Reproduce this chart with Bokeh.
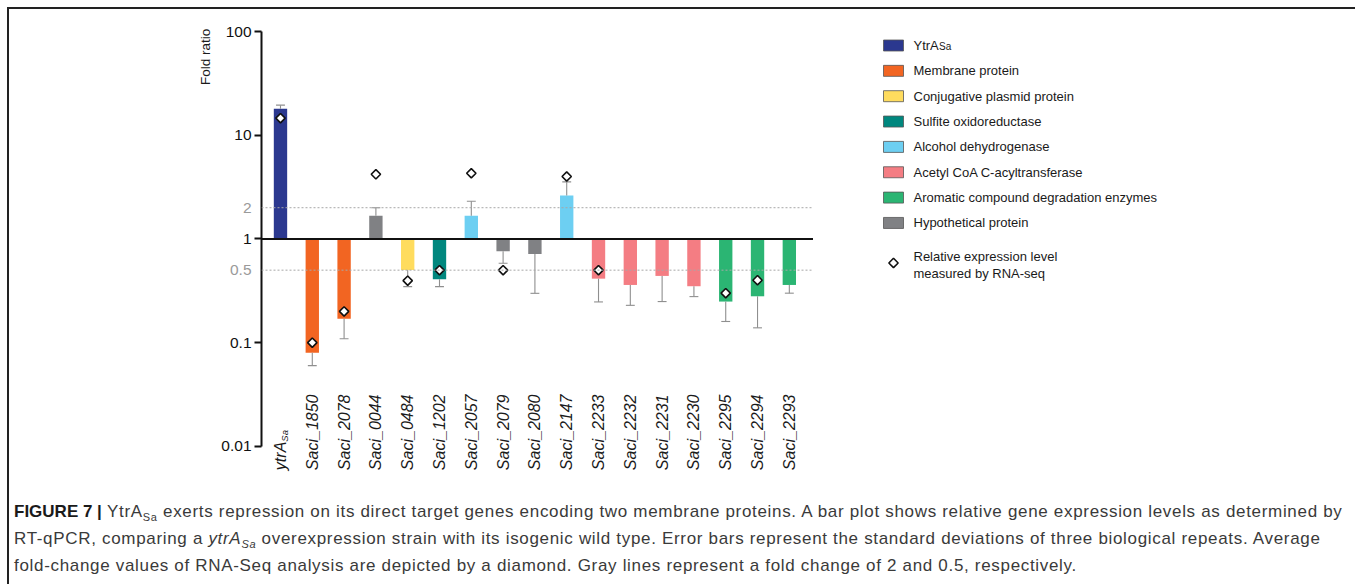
import numpy as np
from bokeh.plotting import figure
from bokeh.models import Range1d, FixedTicker, Span, Div
from bokeh.layouts import row, column
from bokeh.core.properties import value
from bokeh.embed import file_html
from bokeh.resources import INLINE

# ---------------- data ----------------
genes = ["ytrA", "Saci_1850", "Saci_2078", "Saci_0044", "Saci_0484", "Saci_1202",
         "Saci_2057", "Saci_2079", "Saci_2080", "Saci_2147", "Saci_2233", "Saci_2232",
         "Saci_2231", "Saci_2230", "Saci_2295", "Saci_2294", "Saci_2293"]
groups = ["ytra", "membrane", "membrane", "hypo", "plasmid", "sulfite",
          "alcohol", "hypo", "hypo", "alcohol", "acetyl", "acetyl",
          "acetyl", "acetyl", "aromatic", "aromatic", "aromatic"]
fold_ratio = [18.0, 0.080, 0.170, 1.67, 0.502, 0.409, 1.67, 0.761, 0.717, 2.62,
              0.414, 0.360, 0.440, 0.350, 0.249, 0.280, 0.360]
error_end = [19.5, 0.060, 0.109, 2.00, 0.347, 0.347, 2.31, 0.583, 0.299, 3.55,
             0.247, 0.229, 0.249, 0.278, 0.160, 0.139, 0.300]
rnaseq = [14.6, 0.100, 0.200, 4.20, 0.396, 0.500, 4.30, 0.500, None, 4.00,
          0.500, None, None, None, 0.300, 0.400, None]

legend_keys = ["ytra", "membrane", "plasmid", "sulfite", "alcohol", "acetyl", "aromatic", "hypo"]
legend_labels = ["YtrA", "Membrane protein", "Conjugative plasmid protein", "Sulfite oxidoreductase",
                 "Alcohol dehydrogenase", "Acetyl CoA C-acyltransferase",
                 "Aromatic compound degradation enzymes", "Hypothetical protein"]
legend_colors = ["#2B388F", "#F26522", "#FFDC5E", "#00877E", "#6DCFF2", "#F47D83", "#2BB573", "#808184"]
diamond_label = ["Relative expression level", "measured by RNA-seq"]

y_ticks = [0.01, 0.1, 1, 10, 100]
ref_lines = [2, 0.5]
y_title = "Fold ratio"

color_of = dict(zip(legend_keys, legend_colors))
FONT = "Liberation Sans"

# vertical geometry (pixels): one decade of the log axis, space above the 100 tick
H = 473
DEC_PX = 103.72
TOP_PAD = 22
top_exp = 2 + TOP_PAD / DEC_PX
bot_exp = top_exp - H / DEC_PX
y_range = Range1d(10 ** bot_exp, 10 ** top_exp)


def bare(fig):
    fig.outline_line_color = None
    fig.xgrid.visible = False
    fig.ygrid.visible = False
    return fig


# ---------------- left panel: y tick labels and title ----------------
LW0 = 243
lf = bare(figure(width=LW0, height=H, y_axis_type="log", x_range=Range1d(0, LW0), y_range=y_range,
                 output_backend="svg", toolbar_location=None, title=None,
                 x_axis_location=None, y_axis_location=None,
                 min_border_left=0, min_border_right=0, min_border_top=0, min_border_bottom=0))
lf.text(x=[LW0 - 1] * len(y_ticks), y=y_ticks, text=["%g" % t for t in y_ticks],
        text_align="right", text_baseline="middle", text_font=value(FONT),
        text_font_size="15.5px", text_color="#111111")
lf.text(x=[LW0 - 1] * len(ref_lines), y=ref_lines, text=["%g" % t for t in ref_lines],
        text_align="right", text_baseline="middle", text_font=value(FONT),
        text_font_size="15.5px", text_color="#9a9a9a")
lf.text(x=[196], y=[57], text=[y_title], angle=np.pi / 2, text_align="center",
        text_baseline="middle", text_font=value(FONT), text_font_size="13.5px",
        text_color="#1a1a1a")

# ---------------- main chart ----------------
x = list(range(len(genes)))
bar_colors = [color_of[g] for g in groups]

p = bare(figure(width=561, height=H, y_axis_type="log",
                x_range=Range1d(-0.597, 16.76), y_range=y_range,
                output_backend="svg", toolbar_location=None, title=None, x_axis_location=None,
                min_border_left=9, min_border_right=0, min_border_top=0, min_border_bottom=0))

for loc in ref_lines:
    p.add_layout(Span(location=loc, dimension="width", line_color="#a8a8a8",
                      line_width=1, line_dash="2 2"))

bottoms = [1.0] * len(x)
p.vbar(x=x, bottom=bottoms, top=fold_ratio, width=0.42, fill_color=bar_colors, line_color=None)

cap = 0.14
p.segment(x0=x, y0=fold_ratio, x1=x, y1=error_end, line_color="#8f8f8f", line_width=1.1)
p.segment(x0=[v - cap for v in x], y0=error_end, x1=[v + cap for v in x], y1=error_end,
          line_color="#8f8f8f", line_width=1.1)

p.add_layout(Span(location=1, dimension="width", line_color="#111111", line_width=2))

dx = [xi for xi, r in zip(x, rnaseq) if r is not None]
dy = [r for r in rnaseq if r is not None]
p.scatter(x=dx, y=dy, marker="square", angle=np.pi / 4, size=6.6,
          fill_color="white", line_color="#111111", line_width=1.6)

# gene labels (rotated, italic)
label_y = 0.0059
p.text(x=x[1:], y=[label_y] * (len(x) - 1), text=genes[1:], angle=np.pi / 2,
       text_align="left", text_baseline="middle", text_font=value(FONT),
       text_font_style="italic", text_font_size="16px", text_color="#1a1a1a")
p.text(x=[x[0]], y=[label_y], text=[genes[0]], angle=np.pi / 2,
       text_align="left", text_baseline="middle", text_font=value(FONT),
       text_font_style="italic", text_font_size="16px", text_color="#1a1a1a")
p.text(x=[x[0]], y=[0.0111], text=["Sa"], angle=np.pi / 2, x_offset=4,
       text_align="left", text_baseline="middle", text_font=value(FONT),
       text_font_style="italic", text_font_size="9.5px", text_color="#1a1a1a")

# y axis (ticks only; labels are drawn in the left panel)
ax = p.yaxis[0]
ax.ticker = FixedTicker(ticks=y_ticks, minor_ticks=[])
ax.major_label_overrides = {t: "" for t in y_ticks}
ax.major_label_text_font_size = "0px"
ax.major_label_standoff = 0
ax.bounds = (0.01, 100)
ax.axis_line_width = 2
ax.axis_line_color = "#111111"
ax.major_tick_line_width = 2
ax.major_tick_line_color = "#111111"
ax.major_tick_out = 7
ax.major_tick_in = 0
ax.minor_tick_out = 0
ax.minor_tick_in = 0

# ---------------- legend panel ----------------
LW = 540
lg = bare(figure(width=LW, height=H, x_range=Range1d(0, LW), y_range=Range1d(H, 0),
                 output_backend="svg", toolbar_location=None, title=None,
                 x_axis_location=None, y_axis_location=None,
                 min_border_left=0, min_border_right=0, min_border_top=0, min_border_bottom=0))

sw_x, txt_x, first_y, step = 80, 100, 36, 25.35
ys = [first_y + i * step for i in range(len(legend_labels))]
lg.rect(x=[sw_x] * len(ys), y=ys, width=20, height=11, fill_color=legend_colors,
        line_color="#555555", line_width=0.8)
lg.text(x=[txt_x] * (len(ys) - 1), y=ys[1:], text=legend_labels[1:], text_align="left",
        text_baseline="middle", text_font=value(FONT), text_font_size="13px",
        text_color="#1a1a1a")
lg.text(x=[txt_x], y=[ys[0]], text=[legend_labels[0]], text_align="left",
        text_baseline="middle", text_font=value(FONT), text_font_size="13px",
        text_color="#1a1a1a")
lg.text(x=[txt_x + 25.5], y=[ys[0] + 1], text=["Sa"], text_align="left",
        text_baseline="middle", text_font=value(FONT), text_font_size="10px",
        text_color="#1a1a1a")
dia_y = ys[-1] + 40
lg.scatter(x=[sw_x], y=[dia_y], marker="square", angle=np.pi / 4, size=6.6,
           fill_color="white", line_color="#111111", line_width=1.6)
lg.text(x=[txt_x, txt_x], y=[dia_y - 6, dia_y + 10.5], text=diamond_label, text_align="left",
        text_baseline="middle", text_font=value(FONT), text_font_size="13px",
        text_color="#1a1a1a")

# ---------------- caption ----------------
cap_html = (
    '<div style="font-family:\'Liberation Sans\',Arial,sans-serif;font-size:17px;color:#3a3a3a;'
    'letter-spacing:0.68px;padding-left:0px;white-space:nowrap;">'
    '<div style="height:18px;line-height:18px;margin-bottom:9px;">'
    '<b style="color:#1a1a1a;letter-spacing:0;">FIGURE 7 |</b> YtrA<sub style="font-size:11px;">Sa</sub> exerts repression on its direct target '
    'genes encoding two membrane proteins. A bar plot shows relative gene expression levels as determined by</div>'
    '<div style="height:18px;line-height:18px;margin-bottom:9px;">'
    'RT-qPCR, comparing a <i>ytrA<sub style="font-size:11px;">Sa</sub></i> overexpression strain with its isogenic wild type. '
    'Error bars represent the standard deviations of three biological repeats. Average</div>'
    '<div style="height:18px;line-height:18px;">'
    'fold-change values of RNA-Seq analysis are depicted by a diamond. Gray lines represent a fold change '
    'of 2 and 0.5, respectively.</div></div>'
)
caption = Div(text=cap_html, width=1340, height=92, styles={"padding-top": "16px"})

layout = column(row(lf, p, lg), caption,
                styles={"border-top": "2px solid #222222", "border-left": "2px solid #222222",
                        "margin-left": "7px", "margin-top": "7px"})

open("out.html", "w").write(file_html(layout, INLINE))
